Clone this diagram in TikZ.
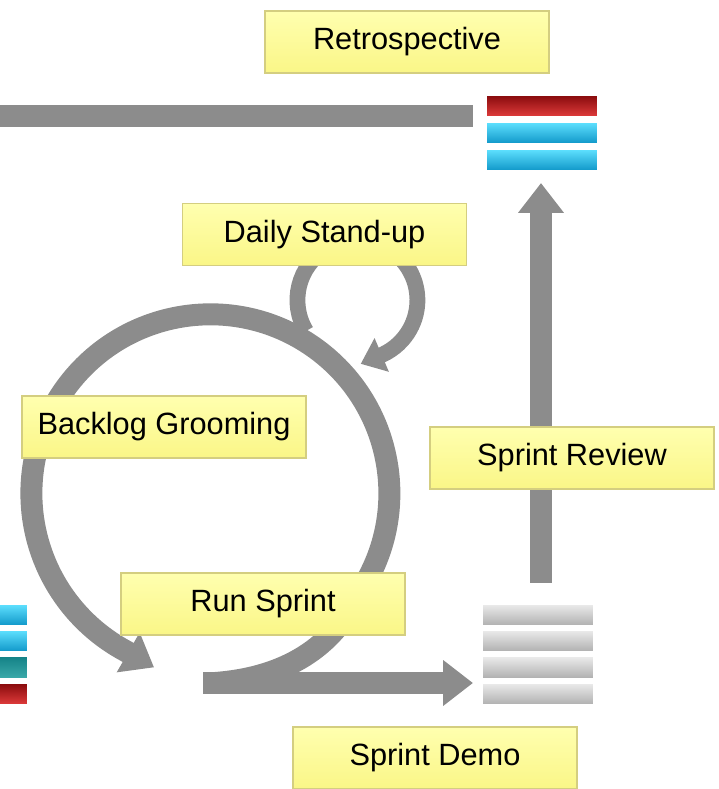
\documentclass[tikz,border=0pt]{standalone}
\usepackage{fontspec}
\setmainfont{Liberation Sans}
\usetikzlibrary{arrows.meta}

\definecolor{notetop}{RGB}{255,255,175}
\definecolor{notebot}{RGB}{250,246,135}
\definecolor{noteedge}{RGB}{212,206,128}
\definecolor{pipegray}{RGB}{140,140,140}
\definecolor{redtop}{RGB}{135,10,12}
\definecolor{redbot}{RGB}{225,60,60}
\definecolor{cyantop}{RGB}{95,225,255}
\definecolor{cyanbot}{RGB}{15,150,200}
\definecolor{tealtop}{RGB}{20,130,135}
\definecolor{tealbot}{RGB}{60,170,170}
\definecolor{greytop}{RGB}{235,235,235}
\definecolor{greybot}{RGB}{175,175,175}

\begin{document}
\begin{tikzpicture}[x=0.02cm, y=0.02cm,
    % Node styles
    phasebox/.style={
        rectangle,
        draw=noteedge,
        line width=0.8pt,
        top color=notetop,
        bottom color=notebot,
        minimum width=5.68cm,
        minimum height=1.24cm,
        inner sep=0pt,
        font=\fontsize{17.5}{20}\selectfont
    },
    barbox/.style={
        rectangle,
        draw=white,
        line width=0.5pt,
        minimum width=2.22cm,
        minimum height=0.43cm,
        inner sep=0pt
    },
    redbar/.style={barbox, top color=redtop, bottom color=redbot},
    cyanbar/.style={barbox, top color=cyantop, bottom color=cyanbot},
    tealbar/.style={barbox, top color=tealtop, bottom color=tealbot},
    greybar/.style={barbox, top color=greytop, bottom color=greybot},
    % Connector styles
    pipe/.style={
        draw=pipegray,
        line width=12.5pt
    },
    bigarrow/.style={
        pipe,
        -{Triangle[length=17pt, width=25pt]}
    },
    smallarrow/.style={
        draw=pipegray,
        line width=9pt,
        -{Triangle[length=13pt, width=20pt]}
    }
]

\clip (0,0) rectangle (719,789);

% === Bar stacks ===
\node[redbar] (retroA) at (541.5,683) {};
\node[cyanbar] (retroB) at (541.5,656) {};
\node[cyanbar] (retroC) at (541.5,629) {};

\node[greybar] (demoA) at (538,174) {};
\node[greybar] (demoB) at (538,148) {};
\node[greybar] (demoC) at (538,121.5) {};
\node[greybar] (demoD) at (538,95) {};

\node[cyanbar] (backA) at (-28,174) {};
\node[cyanbar] (backB) at (-28,148) {};
\node[tealbar] (backC) at (-28,121.5) {};
\node[redbar] (backD) at (-28,95) {};

% === Connector ends ===
\coordinate (topin) at (-20,673);
\coordinate (topend) at (473,673);
\coordinate (reviewfoot) at (541,206);
\coordinate (reviewtip) at (541,606);
\coordinate (sprintcusp) at (215,106);
\coordinate (sprintout) at (203,106);
\coordinate (demoin) at (473,106);

% === Arrows ===
\draw[pipe] (topin) -- (topend);
\draw[bigarrow] (reviewfoot) -- (reviewtip);

% daily loop
\draw[smallarrow] (306,458) arc[start angle=211, end angle=-65, radius=60] -- ++(203:24);

% sprint loop
\draw[bigarrow] (sprintcusp) .. controls (295,112) and (337,150) .. (357,193)
    arc[start angle=-35, end angle=242, radius=179] -- ++(-30:32);
\draw[bigarrow] (sprintout) -- (demoin);

% === Labels ===
\node[phasebox] (retro) at (407,747) {Retrospective};
\node[phasebox] (standup) at (324.5,554.5) {Daily Stand-up};
\node[phasebox] (backlog) at (164,362) {Backlog Grooming};
\node[phasebox] (review) at (572,331) {Sprint Review};
\node[phasebox] (runsprint) at (263,185) {Run Sprint};
\node[phasebox] (demo) at (435,31) {Sprint Demo};

\end{tikzpicture}
\end{document}
